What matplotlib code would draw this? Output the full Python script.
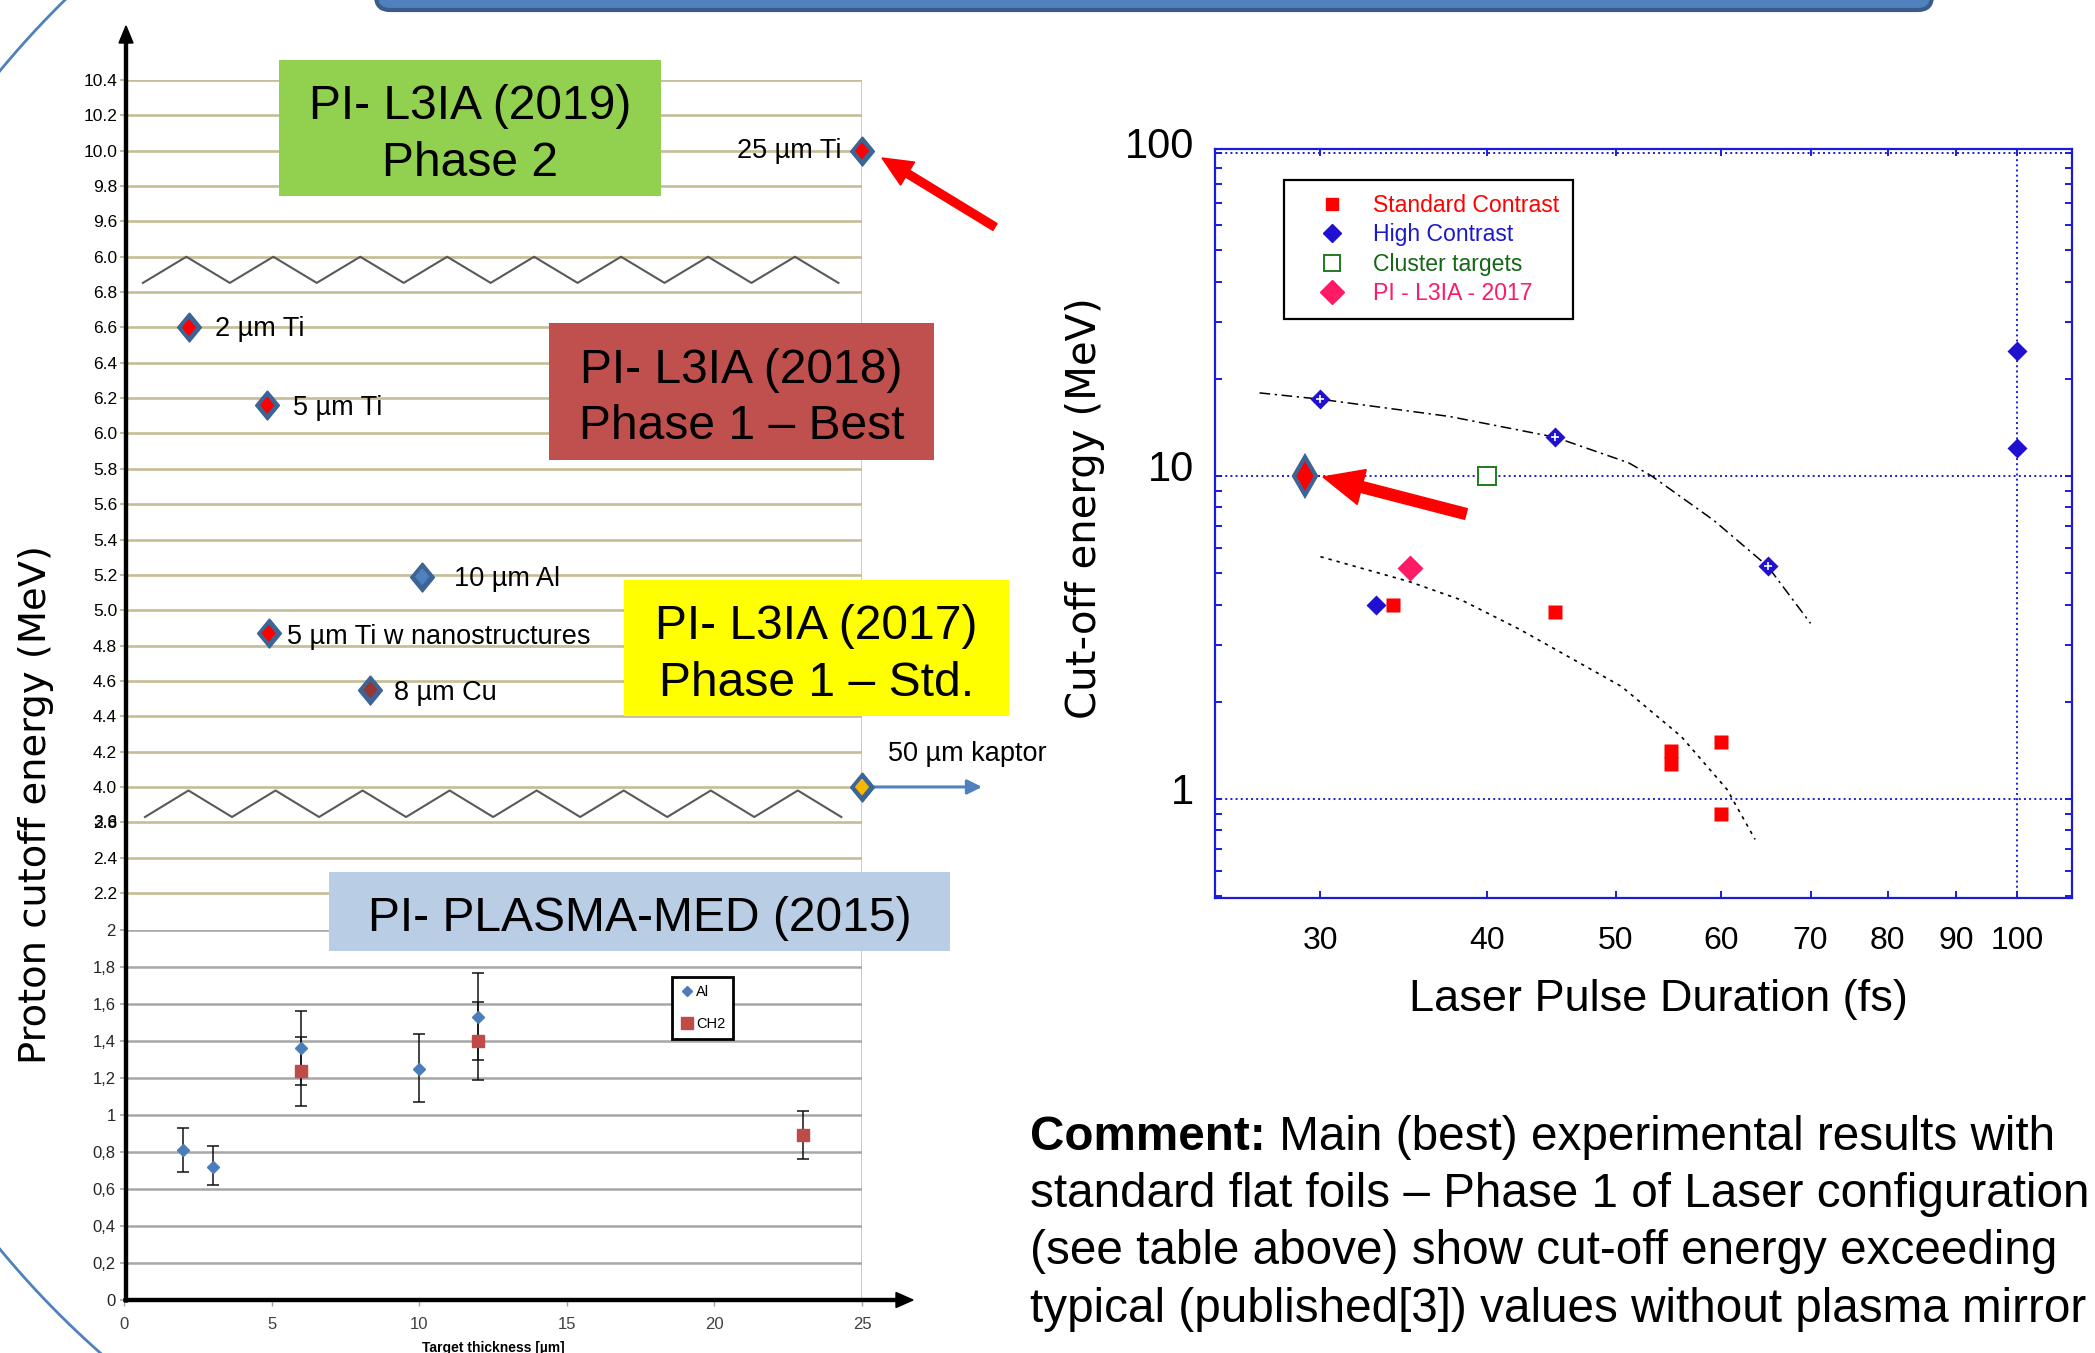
import numpy as np
import matplotlib
matplotlib.use("Agg")
import matplotlib.pyplot as plt
from matplotlib.lines import Line2D
from matplotlib.patches import FancyArrow, FancyBboxPatch, Rectangle
from matplotlib.ticker import FixedFormatter, FixedLocator, LogLocator, NullFormatter, NullLocator
from matplotlib.transforms import ScaledTranslation

plt.rcParams["font.family"] = ["Liberation Sans", "DejaVu Sans"]

W, H = 2095, 1353

# ---- left chart, upper part: broken axis, one gridline slot per label
slot_labels = ["2.2", "2.4", "2.8", "4.0", "4.2", "4.4", "4.6", "4.8", "5.0", "5.2",
               "5.4", "5.6", "5.8", "6.0", "6.2", "6.4", "6.6", "6.8", "6.0", "9.6",
               "9.8", "10.0", "10.2", "10.4"]
slot_pos = list(range(11, 11 + len(slot_labels)))

targets = ["2 µm Ti", "5 µm Ti", "10 µm Al", "5 µm Ti w nanostructures",
           "8 µm Cu", "25 µm Ti", "50 µm kaptor"]
thickness = [2.2, 4.85, 10.1, 4.9, 8.35, 25.0, 25.0]
cutoff = [6.6, 6.16, 5.19, 4.87, 4.55, 10.0, 4.0]
inner_colors = ["#ff0000", "#ff0000", "#4f81bd", "#ff0000", "#953735", "#ff0000", "#f5b800"]

# ---- left chart, lower part (PLASMA-MED 2015)
lo_ticks = [0, 0.2, 0.4, 0.6, 0.8, 1.0, 1.2, 1.4, 1.6, 1.8, 2.0]
lo_ticklabels = ["0", "0,2", "0,4", "0,6", "0,8", "1", "1,2", "1,4", "1,6", "1,8", "2"]
thick_ticks = [0, 5, 10, 15, 20, 25]
al_x = [2, 3, 6, 10, 12]
al_y = [0.81, 0.72, 1.36, 1.25, 1.53]
al_lo = [0.69, 0.62, 1.16, 1.07, 1.30]
al_hi = [0.93, 0.83, 1.56, 1.44, 1.77]
ch2_x = [6, 12, 23]
ch2_y = [1.24, 1.40, 0.89]
ch2_lo = [1.05, 1.19, 0.76]
ch2_hi = [1.42, 1.61, 1.02]

# ---- right chart (log-log)
pulse_ticks = [30, 40, 50, 60, 70, 80, 90, 100]
energy_ticks = [1, 10, 100]
std_x = [34, 45, 55, 55, 60, 60]
std_y = [4.0, 3.8, 1.41, 1.28, 1.5, 0.9]
hc_x = [30, 45, 65, 33, 100, 100]
hc_y = [17.3, 13.2, 5.26, 4.0, 24.4, 12.2]
hc_on_fit = [True, True, True, False, False, False]
cluster_x, cluster_y = [40], [10.0]
pi2017_x, pi2017_y = [35], [5.2]
best_x, best_y = [29.2], [10.0]
fit_hc_x = [27.0, 30, 37.5, 45, 51.1, 53.2, 59.2, 65, 70]
fit_hc_y = [18.1, 17.3, 15.3, 13.2, 11.0, 10.0, 7.3, 5.26, 3.5]
fit_std_x = [30, 35, 38.3, 42.3, 50.5, 56.0, 60.6, 63.6]
fit_std_y = [5.63, 4.71, 4.13, 3.36, 2.23, 1.56, 1.07, 0.75]

TAN = "#c4bd97"
GRIDGRAY = "#a6a6a6"
STEEL = "#3c6494"
BLUE = "#1c1cd8"
DIAMOND = [(0, 1), (0.82, 0), (0, -1), (-0.82, 0), (0, 1)]


def to_slot(v):
    # broken axis: 4.0-6.8 and 9.6-10.4 sections, 0.2 MeV per slot
    if v >= 9.6:
        return 30 + (v - 9.6) / 0.2
    return 14 + (v - 4.0) / 0.2


def add_px_axes(fig, left, top, right, bottom):
    return fig.add_axes([left / W, 1 - bottom / H, (right - left) / W, (bottom - top) / H])


def main():
    fig = plt.figure(figsize=(W / 100, H / 100), dpi=100)

    # ---------------- upper left chart
    ax_up = add_px_axes(fig, 124, 80, 862, 928.35)
    ax_up.set_xlim(0, 25)
    ax_up.set_ylim(10, 34)
    ax_up.patch.set_alpha(0)
    for s in ax_up.spines.values():
        s.set_visible(False)
    ax_up.set_xticks([])
    ax_up.set_yticks(slot_pos)
    ax_up.set_yticklabels(slot_labels, fontsize=12.5)
    ax_up.tick_params(axis="y", length=3, width=1.5, color=TAN, pad=2)
    ax_up.grid(axis="y", color=TAN, lw=1.9, zorder=1)
    ax_up.axvline(25, color=TAN, lw=1.8, zorder=1)
    ax_up.annotate("3.6", xy=(0, 13), xycoords=ax_up.get_yaxis_transform(),
                   xytext=(-5, 0), textcoords="offset points", ha="right", va="center",
                   fontsize=12.5)

    slots = [to_slot(v) for v in cutoff]
    ax_up.scatter(thickness, slots, marker=DIAMOND, s=21 ** 2, color=STEEL, zorder=4, clip_on=False)
    ax_up.scatter(thickness, slots, marker=DIAMOND, s=11 ** 2, color=inner_colors, zorder=5, clip_on=False)

    offsets = [(26, -2), (26, -3), (32, -2), (18, -4), (24, -3), (-20, 0), (26, 33)]
    for name, x, y, (dx, dy) in zip(targets, thickness, slots, offsets):
        ax_up.annotate(name, xy=(x, y), xytext=(dx, dy), textcoords="offset pixels",
                       ha="right" if dx < 0 else "left", va="center",
                       fontsize=19.5, annotation_clip=False)
    # kaptor arrow (thickness beyond the axis)
    ax_up.annotate("", xy=(25, to_slot(4.0)), xytext=(120, 0), textcoords="offset pixels",
                   arrowprops=dict(arrowstyle="<|-", color="#4f81bd", lw=2.2,
                                   mutation_scale=22, shrinkA=0, shrinkB=0),
                   annotation_clip=False)

    # break marks
    for lo, hi, x0, x1 in [(28.26, 29.0, 0.64, 24.2), (13.15, 13.9, 0.71, 24.3)]:
        zx = np.linspace(x0, x1, 17)
        zy = [lo if i % 2 == 0 else hi for i in range(17)]
        ax_up.plot(zx, zy, color="#595959", lw=1.5, zorder=3)

    # ---------------- lower left chart
    ax_lo = add_px_axes(fig, 124, 930, 862, 1300)
    ax_lo.set_xlim(0, 25)
    ax_lo.set_ylim(0, 2)
    ax_lo.patch.set_alpha(0)
    for s in ax_lo.spines.values():
        s.set_visible(False)
    ax_lo.set_yticks(lo_ticks)
    ax_lo.set_yticklabels(lo_ticklabels, fontsize=12, color="#262626")
    ax_lo.set_xticks(thick_ticks)
    ax_lo.set_xticklabels([str(t) for t in thick_ticks], fontsize=12, color="#404040")
    ax_lo.tick_params(axis="y", length=3, width=1.2, color=GRIDGRAY, pad=3)
    ax_lo.tick_params(axis="x", length=4, width=1.0, color=GRIDGRAY, pad=8)
    ax_lo.grid(axis="y", color=GRIDGRAY, lw=1.8, zorder=1)
    ax_lo.axvline(25, color=TAN, lw=1.8, zorder=1)

    al_err = [np.subtract(al_y, al_lo), np.subtract(al_hi, al_y)]
    ch2_err = [np.subtract(ch2_y, ch2_lo), np.subtract(ch2_hi, ch2_y)]
    ax_lo.errorbar(al_x, al_y, yerr=al_err, fmt="D", ms=6.5, color="#4a7ebb",
                   ecolor="#111111", elinewidth=1.1, capsize=4, capthick=1.1, zorder=4)
    ax_lo.errorbar(ch2_x, ch2_y, yerr=ch2_err, fmt="s", ms=8.5, color="#be4b48",
                   ecolor="#111111", elinewidth=1.1, capsize=4, capthick=1.1, zorder=4)
    lo_handles = [Line2D([], [], marker="D", ls="none", color="#4a7ebb", ms=5.5),
                  Line2D([], [], marker="s", ls="none", color="#be4b48", ms=8)]
    leg = ax_lo.legend(lo_handles, ["Al", "CH2"], loc="upper left", bbox_to_anchor=(0.7425, 0.873),
                       borderaxespad=0, fontsize=10.5, handlelength=0.9, handletextpad=0.2,
                       labelspacing=1.25, borderpad=0.55, fancybox=False, framealpha=1)
    leg.get_frame().set_edgecolor("black")
    leg.get_frame().set_linewidth(2)
    ax_lo.set_xlabel("Target thickness [µm]", fontsize=10, fontweight="bold", va="top")
    ax_lo.xaxis.set_label_coords(0.5, -0.11)

    # ---------------- right chart
    ax_r = add_px_axes(fig, 1215, 149, 2072, 898)
    ax_r.set_xscale("log")
    ax_r.set_yscale("log")
    ax_r.set_xlim(25, 110)
    ax_r.set_ylim(0.494, 103)
    for s in ax_r.spines.values():
        s.set_color(BLUE)
        s.set_linewidth(1.6)
    ax_r.xaxis.set_major_locator(FixedLocator(pulse_ticks))
    ax_r.xaxis.set_major_formatter(FixedFormatter([str(t) for t in pulse_ticks]))
    ax_r.xaxis.set_minor_locator(NullLocator())
    ax_r.yaxis.set_major_locator(FixedLocator(energy_ticks))
    ax_r.yaxis.set_major_formatter(FixedFormatter([str(t) for t in energy_ticks]))
    ax_r.yaxis.set_minor_locator(LogLocator(base=10, subs=range(2, 10)))
    ax_r.yaxis.set_minor_formatter(NullFormatter())
    ax_r.tick_params(which="both", direction="in", top=True, right=True, color=BLUE,
                     width=1.4, length=5)
    ax_r.tick_params(axis="x", labelsize=23, pad=20)
    ax_r.tick_params(axis="y", labelsize=30, pad=15)
    shift = ScaledTranslation(0, 11 / 100, fig.dpi_scale_trans)
    for lab in ax_r.get_yticklabels():
        lab.set_transform(lab.get_transform() + shift)
    ax_r.grid(axis="y", which="major", color=BLUE, ls=":", lw=1.4)
    ax_r.axvline(100, color=BLUE, ls=":", lw=1.4)

    ax_r.plot(fit_hc_x, fit_hc_y, color="black", lw=1.1, ls=(0, (7, 3, 1.5, 3)), zorder=2)
    ax_r.plot(fit_std_x, fit_std_y, color="black", lw=1.2, ls=(0, (2, 3)), zorder=2)
    ax_r.plot(std_x, std_y, "s", ms=9.5, color="#ff0000", mec="none", zorder=3)
    ax_r.plot(hc_x, hc_y, "D", ms=10, color="#2010d0", mec="none", zorder=4)
    ax_r.plot([x for x, f in zip(hc_x, hc_on_fit) if f], [y for y, f in zip(hc_y, hc_on_fit) if f],
              "+", ms=6, mew=1.2, color="white", zorder=5)
    ax_r.plot(cluster_x, cluster_y, "s", ms=13, mfc="white", mec="#1f7a1f", mew=1.4, zorder=4)
    ax_r.plot(pi2017_x, pi2017_y, "D", ms=13, color="#ff1a66", mec="none", zorder=4)
    ax_r.plot(best_x, best_y, "d", ms=19, mfc="#ff0000", mec=STEEL, mew=3, zorder=5)

    r_handles = [Line2D([], [], marker="s", ls="none", color="#ff0000", ms=8),
                 Line2D([], [], marker="D", ls="none", color="#2010d0", ms=9),
                 Line2D([], [], marker="s", ls="none", mfc="white", mec="#1f7a1f", mew=1.4, ms=12),
                 Line2D([], [], marker="D", ls="none", color="#ff1a66", ms=12)]
    leg_r = ax_r.legend(r_handles, ["Standard Contrast", "High Contrast", "Cluster targets",
                                    "PI - L3IA - 2017"],
                        loc="upper left", bbox_to_anchor=(0.0805, 0.9586), borderaxespad=0,
                        fontsize=16.6, handlelength=3.0, handletextpad=0.25, labelspacing=0.28,
                        borderpad=0.6, fancybox=False, framealpha=1,
                        labelcolor=["#ff0000", "#1a1acc", "#156615", "#ff1a66"])
    leg_r.get_frame().set_edgecolor("black")
    leg_r.get_frame().set_linewidth(1.6)

    ax_r.set_xlabel("Laser Pulse Duration (fs)", fontsize=32.5, va="center")
    ax_r.xaxis.set_label_coords(0.517, -0.136)
    ax_r.set_ylabel("Cut-off energy (MeV)", fontsize=29, family="DejaVu Sans", va="center")
    ax_r.yaxis.set_label_coords(-0.1517, 0.5207)

    # ---------------- slide decorations (pixel coordinates)
    ov = fig.add_axes([0, 0, 1, 1])
    ov.set_xlim(0, W)
    ov.set_ylim(H, 0)
    ov.axis("off")

    ov.add_patch(FancyBboxPatch((376, -60), 1556, 70, boxstyle="round,pad=0,rounding_size=14",
                                fc="#4f81bd", ec="#385d8a", lw=3))
    t = np.radians(np.linspace(125, 235, 300))
    ov.plot(713 + 925 * np.cos(t), 660 + 925 * np.sin(t), color="#4f81bd", lw=2)

    ov.add_patch(FancyArrow(126, 1302, 0, -1276, width=3, head_width=14, head_length=17,
                            length_includes_head=True, color="black"))
    ov.add_patch(FancyArrow(124, 1300, 789, 0, width=3, head_width=15, head_length=17,
                            length_includes_head=True, color="black"))

    boxes = [((279, 60, 382, 136), "#92d050", "PI- L3IA (2019)\nPhase 2"),
             ((549, 323, 385, 137), "#c0504d", "PI- L3IA (2018)\nPhase 1 – Best"),
             ((624, 580, 385, 136), "#ffff00", "PI- L3IA (2017)\nPhase 1 – Std."),
             ((329, 872, 621, 79), "#b9cde5", "PI- PLASMA-MED (2015)")]
    for (x, y, w, h), col, txt in boxes:
        ov.add_patch(Rectangle((x, y), w, h, fc=col, ec="none"))
        ov.text(x + w / 2, y + h / 2 + 7, txt, ha="center", va="center", fontsize=34.6,
                linespacing=1.34)

    ov.add_patch(FancyArrow(995, 227, -113, -69, width=8, head_width=27, head_length=30,
                            length_includes_head=True, color="#ff0000"))
    ov.add_patch(FancyArrow(1466, 514, -143, -37, width=11, head_width=36, head_length=40,
                            length_includes_head=True, color="#ff0000"))

    ov.text(36, 805, "Proton cutoff energy (MeV)", rotation=90, fontsize=27.7,
            family="DejaVu Sans", ha="center", va="center")

    lines = ["Main (best) experimental results with",
             "standard flat foils – Phase 1 of Laser configuration",
             "(see table above) show cut-off energy exceeding",
             "typical (published[3]) values without plasma mirror"]
    renderer = fig.canvas.get_renderer()
    head = ov.text(1030, 1137, "Comment:", fontsize=34.3, fontweight="bold", va="center")
    hw = head.get_window_extent(renderer=renderer).width
    ov.text(1030 + hw, 1137, " " + lines[0], fontsize=34.3, va="center")
    for i, ln in enumerate(lines[1:], start=1):
        ov.text(1030, 1137 + 57.5 * i, ln, fontsize=34.3, va="center")

    fig.savefig("out.png", dpi=100, facecolor="white")
    plt.close(fig)


if __name__ == "__main__":
    main()
